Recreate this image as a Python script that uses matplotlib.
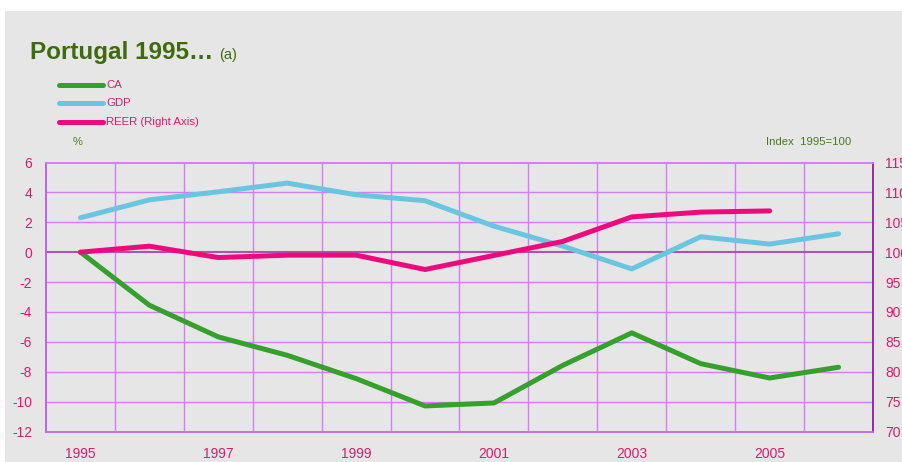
import matplotlib
matplotlib.use("Agg")
import matplotlib.pyplot as plt
from matplotlib.patches import Rectangle
from matplotlib.lines import Line2D

years = [1995, 1996, 1997, 1998, 1999, 2000, 2001, 2002, 2003, 2004, 2005, 2006]
ca = [0.0, -3.55, -5.67, -6.9, -8.46, -10.29, -10.09, -7.57, -5.4, -7.46, -8.42, -7.7]
gdp = [2.3, 3.5, 4.04, 4.62, 3.84, 3.44, 1.74, 0.4, -1.12, 1.03, 0.54, 1.23]
reer_years = [1995, 1996, 1997, 1998, 1999, 2000, 2001, 2002, 2003, 2004, 2005]
reer = [100.0, 101.0, 99.1, 99.5, 99.5, 97.1, 99.45, 101.8, 105.9, 106.7, 106.9]
left_ticks = [6, 4, 2, 0, -2, -4, -6, -8, -10, -12]
right_ticks = [115, 110, 105, 100, 95, 90, 85, 80, 75, 70]
xlabel_years = [1995, 1997, 1999, 2001, 2003, 2005]

plt.rcParams['font.family'] = ['Liberation Sans', 'DejaVu Sans']

C_CA = '#35a02c'
C_GDP = '#6ac6e0'
C_REER = '#ee0a7d'
C_TICK = '#d81b6e'
C_GRID = '#d27ef8'
C_ZERO = '#a855b0'
C_TITLE = '#3d6b0e'

fig = plt.figure(figsize=(9.02, 4.62), dpi=100, facecolor='white')
fig.patches.append(Rectangle((5 / 902, 0), 1, 1 - 11 / 462, transform=fig.transFigure,
                             facecolor='#e6e6e6', edgecolor='none', zorder=-10))

ax = fig.add_axes([46 / 902, 30.5 / 462, 827 / 902, 269 / 462])
ax.set_facecolor('none')
ax.set_zorder(1)
ax.set_xlim(-0.5, len(years) - 0.5)
ax.set_ylim(-12, 6)

ax2 = ax.twinx()
ax2.set_zorder(2)
ax2.set_facecolor('none')
ax2.set_ylim(70, 115)

# grid
for i in range(len(years) - 1):
    ax.axvline(i + 0.5, color=C_GRID, lw=1.0, zorder=1)
for v in left_ticks[1:-1]:
    if v != 0:
        ax.axhline(v, color=C_GRID, lw=1.0, zorder=1)
ax.axhline(0, color=C_ZERO, lw=1.5, zorder=1)

xi = list(range(len(years)))
ax.plot(xi, gdp, color=C_GDP, lw=3.6, solid_capstyle='round', zorder=3)
ax.plot(xi, ca, color=C_CA, lw=3.6, solid_capstyle='round', zorder=3)
rx = [years.index(y) for y in reer_years]
ax2.plot(rx, reer, color=C_REER, lw=3.6, solid_capstyle='round', zorder=3)

ax.set_yticks(left_ticks)
ax.set_yticklabels([str(v) for v in left_ticks])
ax2.set_yticks(right_ticks)
ax2.set_yticklabels([str(v) for v in right_ticks])
ax.set_xticks([years.index(y) for y in xlabel_years])
ax.set_xticklabels([str(y) for y in xlabel_years])

ax.tick_params(axis='y', length=0, pad=10, labelsize=10, labelcolor=C_TICK)
ax.tick_params(axis='x', length=0, pad=11, labelsize=10, labelcolor=C_TICK)
ax2.tick_params(axis='y', length=0, pad=9, labelsize=10, labelcolor=C_TICK)

for a in (ax, ax2):
    a.spines['top'].set_color(C_GRID)
    a.spines['bottom'].set_color('#c070f0')
    a.spines['left'].set_color('#c060e8')
    a.spines['right'].set_color('#9a28a8')
    for s in a.spines.values():
        s.set_linewidth(1.2)

# title
fig.text(30 / 902, 1 - 59 / 462, 'Portugal 1995\u2026', fontsize=17.5, fontweight='bold',
         color=C_TITLE, ha='left', va='baseline')
fig.text(219 / 902, 1 - 59 / 462, '(a)', fontsize=10.5, color=C_TITLE, ha='left', va='baseline')

# legend
for lab, col, y in [('CA', C_CA, 85), ('GDP', C_GDP, 103), ('REER (Right Axis)', C_REER, 122)]:
    fig.add_artist(Line2D([59 / 902, 103 / 902], [1 - y / 462, 1 - y / 462], color=col, lw=3.6,
                          solid_capstyle='round', transform=fig.transFigure))
    fig.text(106 / 902, 1 - y / 462, lab, fontsize=8.2, color=C_TICK, ha='left', va='center')

fig.text(73 / 902, 1 - 142 / 462, '%', fontsize=8, color='#4a7a20', ha='left', va='center')
fig.text(766 / 902, 1 - 142 / 462, 'Index  1995=100', fontsize=8.2, color='#4a7a20', ha='left', va='center')

fig.savefig('out.png', dpi=100, facecolor='white')
